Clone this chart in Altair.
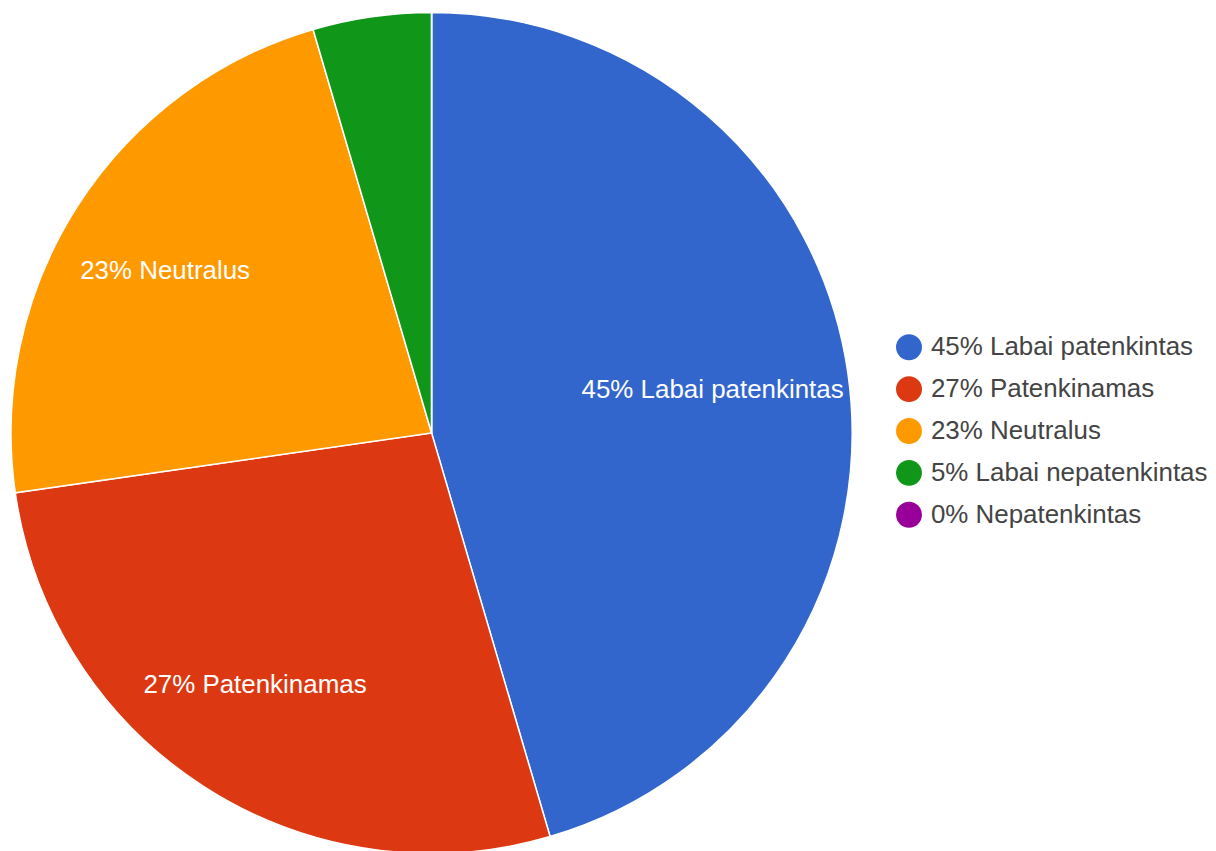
import altair as alt
import pandas as pd

names = ["Labai patenkintas", "Patenkinamas", "Neutralus", "Labai nepatenkintas", "Nepatenkintas"]
counts = [10, 6, 5, 1, 0]
colors = ["#3366cc", "#dc3912", "#ff9900", "#109618", "#990099"]

total = sum(counts)
pcts = [round(100 * c / total) for c in counts]
labels = [f"{p}% {n}" for p, n in zip(pcts, names)]
df = pd.DataFrame({
    "label": labels,
    "value": counts,
    "order": list(range(len(names))),
    "slice_text": [l if c / total >= 0.1 else "" for l, c in zip(labels, counts)],
})

FONT = "Arial, Liberation Sans"

base = alt.Chart(df).encode(
    theta=alt.Theta("value:Q", stack=True),
    order=alt.Order("order:Q", sort="ascending"),
)

pie = base.mark_arc(outerRadius=422, stroke="white", strokeWidth=1.5).encode(
    color=alt.Color(
        "label:N",
        scale=alt.Scale(domain=labels, range=colors),
        sort=labels,
        legend=alt.Legend(
            title=None,
            orient="none",
            legendX=890,
            legendY=325,
            symbolType="circle",
            symbolSize=676,
            symbolStrokeWidth=0,
            labelFontSize=26,
            labelFont=FONT,
            labelColor="#444444",
            labelOffset=9,
            rowPadding=16,
            labelLimit=400,
        ),
    )
)

text = base.mark_text(radius=300, dx=-15, fontSize=26, font=FONT, color="white").encode(
    text="slice_text:N"
)

chart = (pie + text).properties(
    width=848, height=848, padding=0
).configure_view(stroke=None)

chart.save("out.html", embed_options={"renderer": "svg", "actions": False})
